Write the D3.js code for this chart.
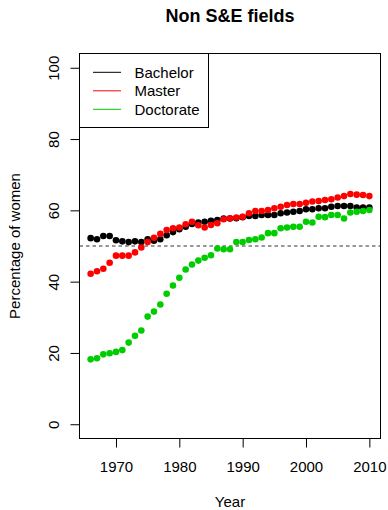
<!DOCTYPE html>
<html>
<head>
<meta charset="utf-8">
<script src="https://cdn.jsdelivr.net/npm/d3@7"></script>
<style>
  body { margin: 0; background: #fff; }
  text { font-family: "Liberation Sans", Arial, sans-serif; fill: #000; }
</style>
</head>
<body>
<div id="chart"></div>
<script>
const years = d3.range(1966, 2011);

const bachelor = [52.2, 51.9, 52.8, 52.8, 51.6, 51.3, 51.1, 51.3, 51.1, 51.9, 51.5, 51.9,
    53.0, 53.9, 54.7, 55.4, 56.2, 56.6, 56.8, 57.1, 57.3, 57.7, 57.7,
    57.8, 58.1, 58.4, 58.4, 58.7, 58.7, 58.7, 59.2, 59.4, 59.6, 59.8, 60.3, 60.3,
    60.6, 60.6, 61.0, 61.2, 61.2, 61.2, 60.8, 60.8, 60.8];

const master = [42.2, 42.9, 43.6, 45.3, 47.3, 47.3, 47.3, 48.2, 49.6, 51.1, 52.3, 53.4,
    54.5, 55.0, 55.2, 56.1, 56.8, 55.8, 55.2, 55.9, 56.4, 57.5, 57.8,
    58.0, 58.2, 59.2, 59.8, 59.8, 60.1, 60.6, 61.0, 61.5, 61.8, 61.8, 62.1, 62.5,
    62.6, 62.9, 63.1, 63.6, 64.0, 64.6, 64.4, 64.3, 64.0];

const doctorate = [18.2, 18.5, 19.6, 19.9, 20.3, 20.8, 22.9, 24.8, 26.3, 30.2, 31.6, 33.6,
    36.6, 38.9, 41.1, 43.4, 44.8, 45.9, 46.7, 47.4, 49.3, 49.1, 49.1,
    51.1, 51.1, 51.7, 51.9, 52.4, 53.6, 53.6, 55.0, 55.2, 55.4, 55.4, 56.8, 56.6,
    58.2, 58.1, 58.7, 58.7, 57.7, 59.4, 59.6, 59.8, 60.1];

const seriesNames = ["Bachelor", "Master", "Doctorate"];
const seriesColors = ["#000000", "#FF0000", "#00CD00"];
const xTicks = [1970, 1980, 1990, 2000, 2010];
const yTicks = [0, 20, 40, 60, 80, 100];
const refLine = 50;

const width = 388, height = 510;
const plot = { left: 79.5, right: 380.5, top: 53.5, bottom: 438.5 };

const svg = d3.select("#chart")
    .append("svg")
        .attr("width", width)
        .attr("height", height);

// R style 4% padding on both axes
const x = d3.scaleLinear().domain([1964.24, 2011.76]).range([plot.left, plot.right]);
const y = d3.scaleLinear().domain([-4, 104]).range([plot.bottom, plot.top]);

// title
svg.append("text")
    .attr("x", (plot.left + plot.right) / 2)
    .attr("y", 22)
    .attr("text-anchor", "middle")
    .style("font-size", "18px")
    .style("font-weight", "bold")
    .text("Non S&E fields");

// axes
const xAxis = svg.append("g")
    .attr("transform", `translate(0,${plot.bottom})`)
    .call(d3.axisBottom(x).tickValues(xTicks).tickSize(9).tickPadding(14).tickFormat(d3.format("d")));
xAxis.select(".domain").remove();
xAxis.selectAll("text").style("font-size", "15px").style("font-family", "Liberation Sans, Arial, sans-serif");

const yAxis = svg.append("g")
    .attr("transform", `translate(${plot.left},0)`)
    .call(d3.axisLeft(y).tickValues(yTicks).tickSize(9));
yAxis.select(".domain").remove();
yAxis.selectAll("text").remove();
yAxis.selectAll(".tick")
    .append("text")
        .attr("transform", "translate(-21,0) rotate(-90)")
        .attr("text-anchor", "middle")
        .style("font-size", "15px")
        .text((d) => d);

// axis titles
svg.append("text")
    .attr("x", (plot.left + plot.right) / 2)
    .attr("y", 507)
    .attr("text-anchor", "middle")
    .style("font-size", "15px")
    .text("Year");

svg.append("text")
    .attr("transform", `translate(20,${(plot.top + plot.bottom) / 2}) rotate(-90)`)
    .attr("text-anchor", "middle")
    .style("font-size", "15px")
    .text("Percentage of women");

// dashed reference line
svg.append("line")
    .attr("x1", plot.left).attr("x2", plot.right)
    .attr("y1", y(refLine)).attr("y2", y(refLine))
    .attr("stroke", "#333")
    .attr("stroke-width", 1.2)
    .attr("stroke-dasharray", "3.5,3");

// points
const series = [bachelor, master, doctorate];
series.forEach((vals, i) => {
    svg.append("g")
        .selectAll("circle")
        .data(vals)
        .enter()
        .append("circle")
            .attr("cx", (d, j) => x(years[j]))
            .attr("cy", (d) => y(d))
            .attr("r", 3.3)
            .style("fill", seriesColors[i]);
});

// box
svg.append("rect")
    .attr("x", plot.left).attr("y", plot.top)
    .attr("width", plot.right - plot.left)
    .attr("height", plot.bottom - plot.top)
    .attr("fill", "none")
    .attr("stroke", "#000");

// legend
const legend = svg.append("g");
legend.append("rect")
    .attr("x", plot.left).attr("y", plot.top)
    .attr("width", 129).attr("height", 74)
    .attr("fill", "#fff")
    .attr("stroke", "#000");

const rows = legend.selectAll(".row")
    .data(seriesNames)
    .enter()
    .append("g")
        .attr("class", "row")
        .attr("transform", (d, i) => `translate(0,${72.3 + i * 18.5})`);

rows.append("line")
    .attr("x1", 93).attr("x2", 121)
    .attr("stroke", (d, i) => seriesColors[i])
    .attr("stroke-width", 1);

rows.append("text")
    .attr("x", 134.5)
    .attr("y", 5.3)
    .style("font-size", "15px")
    .text((d) => d);
</script>
</body>
</html>
